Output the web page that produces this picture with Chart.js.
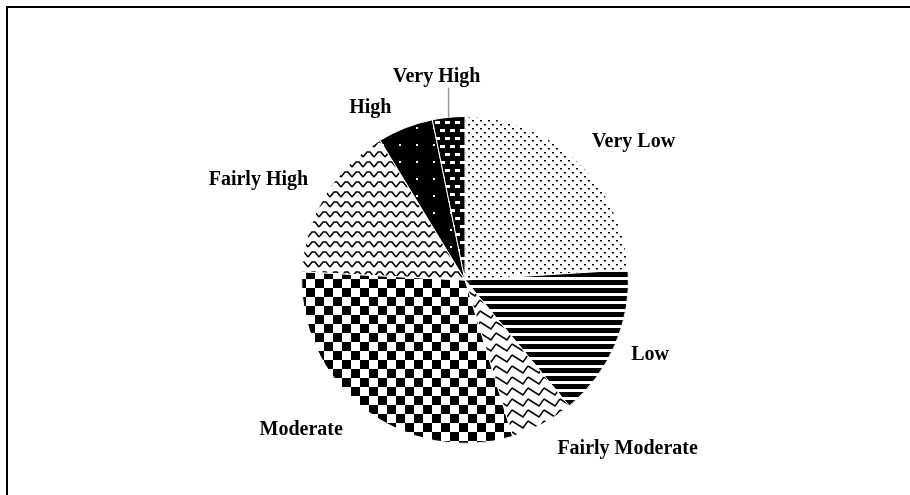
<!DOCTYPE html>
<html>
<head>
<meta charset="utf-8">
<script src="https://cdn.jsdelivr.net/npm/chart.js@4.4.0/dist/chart.umd.min.js"></script>
<style>
  html, body { margin: 0; padding: 0; background: #fff; }
  #wrap { position: relative; width: 910px; height: 495px; overflow: hidden; }
  #frame { position: absolute; left: 6px; top: 6px; width: 1000px; height: 600px; border-top: 2px solid #000; border-left: 2px solid #000; }
  canvas { position: absolute; left: 0; top: 0; }
</style>
</head>
<body>
<div id="wrap">
  <div id="frame"></div>
  <canvas id="pieChart" width="910" height="495"></canvas>
</div>
<script>
const categories = ['Very Low', 'Low', 'Fairly Moderate', 'Moderate', 'Fairly High', 'High', 'Very High'];
const shares = [24, 15, 6.3, 30.5, 15.5, 5.5, 3.2];

// nudges (px) from the default label spot at 1.3 x radius on each slice's mid angle
const labelNudge = [[23, 17], [-10, -10], [62, -18], [-33, -18], [-24, 9], [-17, 26], [-7, 8]];
const leaderLine = [false, false, false, false, false, false, true];

// --- fill patterns (black & white, like the printed original) ---
function makeTile(w, h, bg, draw) {
    const c = document.createElement('canvas');
    c.width = w; c.height = h;
    const g = c.getContext('2d');
    g.fillStyle = bg;
    g.fillRect(0, 0, w, h);
    draw(g);
    return g.createPattern(c, 'repeat');
}

function polyline(g, pts, width) {
    g.strokeStyle = '#000';
    g.lineWidth = width;
    g.beginPath();
    pts.forEach((p, i) => i ? g.lineTo(p[0], p[1]) : g.moveTo(p[0], p[1]));
    g.stroke();
}

const patterns = [
    // Very Low: small dots, rows offset
    makeTile(8, 8, '#fff', g => { g.fillStyle = '#000'; g.fillRect(0, 0, 2, 1.5); g.fillRect(4, 4, 2, 1.5); }),
    // Low: horizontal stripes
    makeTile(8, 8, '#fff', g => { g.fillStyle = '#000'; g.fillRect(0, 0, 8, 5); }),
    // Fairly Moderate: slanted shingles
    makeTile(16, 11, '#fff', g => polyline(g, [[0, 3], [11, 10], [16, 3]], 1.5)),
    // Moderate: checkerboard
    makeTile(18, 18, '#fff', g => { g.fillStyle = '#000'; g.fillRect(0, 0, 9, 9); g.fillRect(9, 9, 9, 9); }),
    // Fairly High: small waves
    makeTile(11, 10, '#fff', g => polyline(g, [[0, 7], [4, 2], [7, 2], [11, 7]], 1.6)),
    // High: black with sparse white dots
    makeTile(17, 17, '#000', g => { g.fillStyle = '#fff'; g.fillRect(8, 8, 2, 2); }),
    // Very High: black with white bricks
    makeTile(10, 16, '#000', g => { g.fillStyle = '#fff'; g.fillRect(0, 1, 5, 3); g.fillRect(5, 9, 5, 3); })
];

const sliceLabels = {
    id: 'sliceLabels',
    afterDatasetsDraw(chart) {
        const ctx = chart.ctx;
        const arcs = chart.getDatasetMeta(0).data;
        ctx.save();
        ctx.font = 'bold 20px "Liberation Serif", "Times New Roman", serif';
        ctx.fillStyle = '#000';
        ctx.textAlign = 'center';
        ctx.textBaseline = 'middle';
        arcs.forEach((arc, i) => {
            const p = arc.getProps(['x', 'y', 'startAngle', 'endAngle', 'outerRadius'], true);
            const mid = (p.startAngle + p.endAngle) / 2;
            const lx = p.x + Math.cos(mid) * p.outerRadius * 1.3 + labelNudge[i][0];
            const ly = p.y + Math.sin(mid) * p.outerRadius * 1.3 + labelNudge[i][1];
            if (leaderLine[i]) {
                const ex = p.x + Math.cos(mid) * p.outerRadius;
                const ey = p.y + Math.sin(mid) * p.outerRadius;
                ctx.strokeStyle = '#999';
                ctx.lineWidth = 1.5;
                ctx.beginPath();
                ctx.moveTo(ex, ey);
                ctx.lineTo(ex, ly + 11);
                ctx.stroke();
            }
            ctx.fillText(categories[i], lx, ly);
        });
        ctx.restore();
    }
};

new Chart(document.getElementById('pieChart'), {
    type: 'pie',
    data: {
        labels: categories,
        datasets: [{
            data: shares,
            backgroundColor: patterns,
            borderColor: '#fff',
            borderWidth: 1
        }]
    },
    options: {
        responsive: false,
        animation: false,
        events: [],
        layout: { padding: { top: 116, bottom: 51, left: 20, right: 0 } },
        plugins: { legend: { display: false }, tooltip: { enabled: false } }
    },
    plugins: [sliceLabels]
});
</script>
</body>
</html>
